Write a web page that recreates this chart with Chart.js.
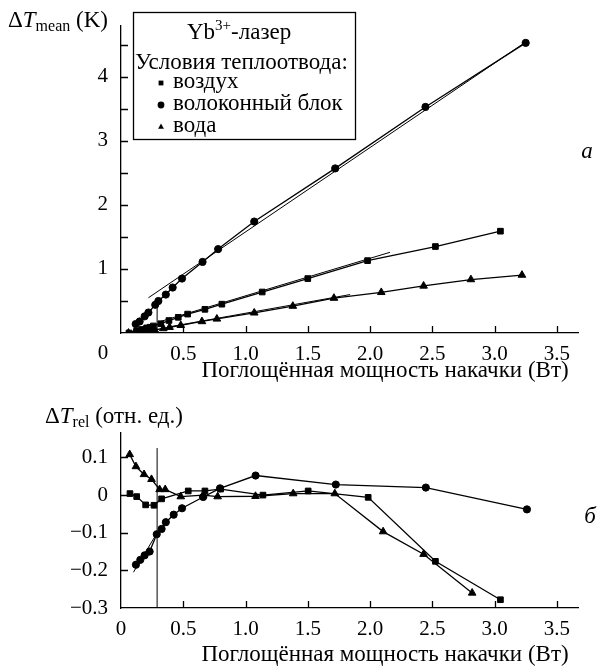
<!DOCTYPE html>
<html>
<head>
<meta charset="utf-8">
<script src="https://cdn.jsdelivr.net/npm/chart.js@4.4.1/dist/chart.umd.min.js"></script>
<style>
  html, body { margin: 0; padding: 0; background: #fff; }
  #wrap { position: relative; width: 599px; height: 669px; }
  .box { position: absolute; left: 0; width: 599px; }
  #boxA { top: 0; height: 385px; }
  #boxB { top: 385px; height: 284px; }
</style>
</head>
<body>
<div id="wrap">
  <div class="box" id="boxA"><canvas id="chartA" width="599" height="385"></canvas></div>
  <div class="box" id="boxB"><canvas id="chartB" width="599" height="284"></canvas></div>
</div>
<script>
(() => {
  "use strict";

  // --- (a) mean temperature rise, K, vs absorbed pump power, W ---
  const airP = [0.064, 0.126, 0.166, 0.206, 0.233, 0.26, 0.32, 0.385, 0.46, 0.535, 0.674, 0.81, 1.134, 1.5, 1.98, 2.525, 3.047];
  const airT = [0.0, 0.035, 0.055, 0.08, 0.09, 0.11, 0.145, 0.195, 0.245, 0.295, 0.37, 0.45, 0.64, 0.85, 1.13, 1.35, 1.59];
  const fibP = [0.118, 0.15, 0.19, 0.22, 0.275, 0.3, 0.36, 0.415, 0.49, 0.655, 0.78, 1.07, 1.72, 2.445, 3.25];
  const fibT = [0.14, 0.18, 0.26, 0.32, 0.44, 0.5, 0.6, 0.71, 0.85, 1.11, 1.31, 1.74, 2.57, 3.53, 4.53];
  const watP = [0.06, 0.11, 0.17, 0.22, 0.27, 0.34, 0.39, 0.48, 0.65, 0.77, 1.07, 1.38, 1.71, 2.09, 2.43, 2.81, 3.22];
  const watT = [0.0, 0.01, 0.03, 0.04, 0.05, 0.07, 0.09, 0.12, 0.18, 0.22, 0.315, 0.42, 0.545, 0.635, 0.735, 0.835, 0.905];
  // straight-line fits and threshold marker
  const fitFibP = [0.22, 3.27], fitFibT = [0.55, 4.57];
  const fitAirP = [0.3, 2.16], fitAirT = [0.17, 1.26];
  const fitWatP = [0.4, 1.84], fitWatT = [0.1, 0.6];
  const thrP = [0.29, 0.29], thrT = [0, 0.49];

  // --- (б) relative deviation ---
  const airRelP = [0.072, 0.126, 0.198, 0.265, 0.326, 0.54, 0.674, 0.8, 1.14, 1.503, 1.985, 2.525, 3.047];
  const airRel = [0.004, -0.004, -0.026, -0.027, -0.01, 0.011, 0.011, 0.016, 0.0, 0.011, -0.006, -0.176, -0.278];
  const fibRelP = [0.12, 0.155, 0.19, 0.23, 0.287, 0.326, 0.36, 0.423, 0.49, 0.66, 0.795, 1.081, 1.725, 2.448, 3.26];
  const fibRel = [-0.185, -0.172, -0.16, -0.15, -0.104, -0.09, -0.072, -0.052, -0.035, -0.005, 0.018, 0.052, 0.028, 0.02, -0.038];
  const watRelP = [0.07, 0.12, 0.185, 0.245, 0.31, 0.355, 0.48, 0.66, 0.776, 1.08, 1.383, 1.717, 2.105, 2.43, 2.82];
  const watRel = [0.108, 0.076, 0.055, 0.042, 0.015, 0.015, -0.004, 0.0, -0.004, -0.003, 0.004, 0.004, -0.097, -0.157, -0.26];
  const fitRelP = [0.1, 0.3], fitRel = [-0.205, -0.095];
  const thrRelP = [0.29, 0.29], thrRel = [-0.3, 0.125];

  const xTitle = "Поглощённая мощность накачки (Вт)";
  const legendHead = "Условия теплоотвода:";
  const legendItems = ["воздух", "волоконный блок", "вода"];
  const legendStyles = ["rect", "circle", "triangle"];

  const SERIF = '"Liberation Serif", "DejaVu Serif", serif';
  const TXT = 23;
  Chart.defaults.font.family = SERIF;
  Chart.defaults.font.size = 21;
  Chart.defaults.color = "#000";

  const pts = (xs, ys) => xs.map((x, i) => ({ x, y: ys[i] }));

  function series(data, style, radius) {
    return {
      data, showLine: true, borderColor: "#000", backgroundColor: "#000", borderWidth: 1.3,
      pointStyle: style, pointRadius: radius, pointBorderWidth: 1, pointBorderColor: "#000",
      pointBackgroundColor: "#000",
    };
  }
  function guide(data) {
    return { data, showLine: true, borderColor: "#000", borderWidth: 1, pointRadius: 0 };
  }

  function rich(ctx, x, y, parts) {
    ctx.textBaseline = "alphabetic";
    ctx.textAlign = "left";
    for (const p of parts) {
      ctx.font = (p.it ? "italic " : "") + (p.size || TXT) + "px " + SERIF;
      ctx.fillText(p.t, x, y + (p.dy || 0));
      x += ctx.measureText(p.t).width;
    }
    return x;
  }

  // inward tick marks on both axes
  function drawTicks(chart) {
    const { ctx, scales: { x, y } } = chart;
    ctx.save();
    ctx.strokeStyle = "#000";
    ctx.lineWidth = 1.3;
    ctx.beginPath();
    for (const t of x.ticks) {
      if (t.value === x.min || t.value === x.max) continue;
      const px = Math.round(x.getPixelForValue(t.value)) + 0.5;
      ctx.moveTo(px, x.top); ctx.lineTo(px, x.top - 7);
    }
    for (const t of y.ticks) {
      if (t.value === y.min || t.value === y.max) continue;
      const py = Math.round(y.getPixelForValue(t.value)) + 0.5;
      ctx.moveTo(y.right, py); ctx.lineTo(y.right + 7, py);
    }
    ctx.stroke();
    ctx.restore();
  }

  function axisTitle(ctx, y) {
    ctx.font = TXT + "px " + SERIF;
    ctx.textAlign = "center";
    ctx.textBaseline = "middle";
    ctx.fillText(xTitle, 385, y);
  }

  const decorA = {
    id: "decorA",
    afterDraw(chart) {
      const ctx = chart.ctx;
      drawTicks(chart);
      ctx.save();
      ctx.fillStyle = "#000";
      rich(ctx, 8, 27, [{ t: "Δ" }, { t: "T", it: true }, { t: "mean", size: 16, dy: 4 }, { t: " (K)" }]);
      ctx.font = "21px " + SERIF;
      ctx.textAlign = "center";
      ctx.textBaseline = "middle";
      ctx.fillText("0", 103, 353);
      axisTitle(ctx, 371);
      ctx.font = "italic " + TXT + "px " + SERIF;
      ctx.fillText("a", 587, 152);
      // legend box
      ctx.strokeStyle = "#000";
      ctx.lineWidth = 1.3;
      ctx.strokeRect(133.5, 12.5, 222, 127);
      rich(ctx, 187, 39, [{ t: "Yb" }, { t: "3+", size: 15, dy: -9 }, { t: "-лазер" }]);
      rich(ctx, 135, 69, [{ t: legendHead }]);
      const rows = [82, 104, 126];
      legendItems.forEach((label, i) => {
        Chart.helpers.drawPoint(ctx, { pointStyle: legendStyles[i], radius: 3.4, rotation: 0, borderWidth: 0 }, 161, rows[i] + 1);
        rich(ctx, 173, rows[i] + 6, [{ t: label }]);
      });
      ctx.restore();
    },
  };

  const decorB = {
    id: "decorB",
    afterDraw(chart) {
      const ctx = chart.ctx;
      drawTicks(chart);
      ctx.save();
      ctx.fillStyle = "#000";
      rich(ctx, 45, 38, [{ t: "Δ" }, { t: "T", it: true }, { t: "rel", size: 16, dy: 4 }, { t: " (отн. ед.)" }]);
      axisTitle(ctx, 270);
      ctx.font = "italic " + TXT + "px " + SERIF;
      ctx.textAlign = "center";
      ctx.textBaseline = "middle";
      ctx.fillText("б", 590, 132);
      ctx.restore();
    },
  };

  function baseScales(xCb, yOpts, xHeight) {
    return {
      x: {
        type: "linear", min: 0, max: 3.67,
        border: { color: "#000", width: 1.3 },
        grid: { display: false, drawTicks: false },
        ticks: { stepSize: 0.5, includeBounds: false, padding: 9, maxRotation: 0, autoSkip: false, callback: xCb },
        afterFit: (s) => { s.height = xHeight; },
      },
      y: Object.assign({
        type: "linear",
        border: { color: "#000", width: 1.3 },
        grid: { display: false, drawTicks: false },
        afterFit: (s) => { s.width = 121; },
      }, yOpts),
    };
  }

  new Chart(document.getElementById("chartA"), {
    type: "scatter",
    data: {
      datasets: [
        guide(pts(fitFibP, fitFibT)),
        guide(pts(fitAirP, fitAirT)),
        guide(pts(fitWatP, fitWatT)),
        guide(pts(thrP, thrT)),
        series(pts(airP, airT), "rect", 4),
        series(pts(fibP, fibT), "circle", 3.6),
        series(pts(watP, watT), "triangle", 4.4),
      ],
    },
    options: {
      responsive: false, animation: false, devicePixelRatio: 1,
      layout: { padding: { top: 14, right: 21, left: 0, bottom: 0 } },
      plugins: { legend: { display: false }, tooltip: { enabled: false } },
      scales: baseScales(
        (v) => (v === 0 ? "" : v.toFixed(1)),
        {
          min: 0, max: 4.8,
          ticks: { stepSize: 0.5, includeBounds: false, padding: 13, autoSkip: false,
            callback: (v) => (v > 0 && Number.isInteger(v) ? String(v) : "") },
        },
        52
      ),
    },
    plugins: [decorA],
  });

  new Chart(document.getElementById("chartB"), {
    type: "scatter",
    data: {
      datasets: [
        guide(pts(fitRelP, fitRel)),
        guide(pts(thrRelP, thrRel)),
        series(pts(airRelP, airRel), "rect", 4),
        series(pts(fibRelP, fibRel), "circle", 3.6),
        series(pts(watRelP, watRel), "triangle", 4.4),
      ],
    },
    options: {
      responsive: false, animation: false, devicePixelRatio: 1,
      layout: { padding: { top: 48, right: 21, left: 0, bottom: 0 } },
      plugins: { legend: { display: false }, tooltip: { enabled: false } },
      scales: baseScales(
        (v) => (v === 0 ? "0" : v.toFixed(1)),
        {
          min: -0.3, max: 0.165,
          ticks: { stepSize: 0.1, includeBounds: true, padding: 13, autoSkip: false,
            callback: (v) => {
              if (Math.abs(v * 10 - Math.round(v * 10)) > 1e-6) return "";
              if (Math.abs(v) < 1e-9) return "0";
              return (v < 0 ? "−" : "") + Math.abs(v).toFixed(1);
            } },
        },
        61
      ),
    },
    plugins: [decorB],
  });
})();
</script>
</body>
</html>
